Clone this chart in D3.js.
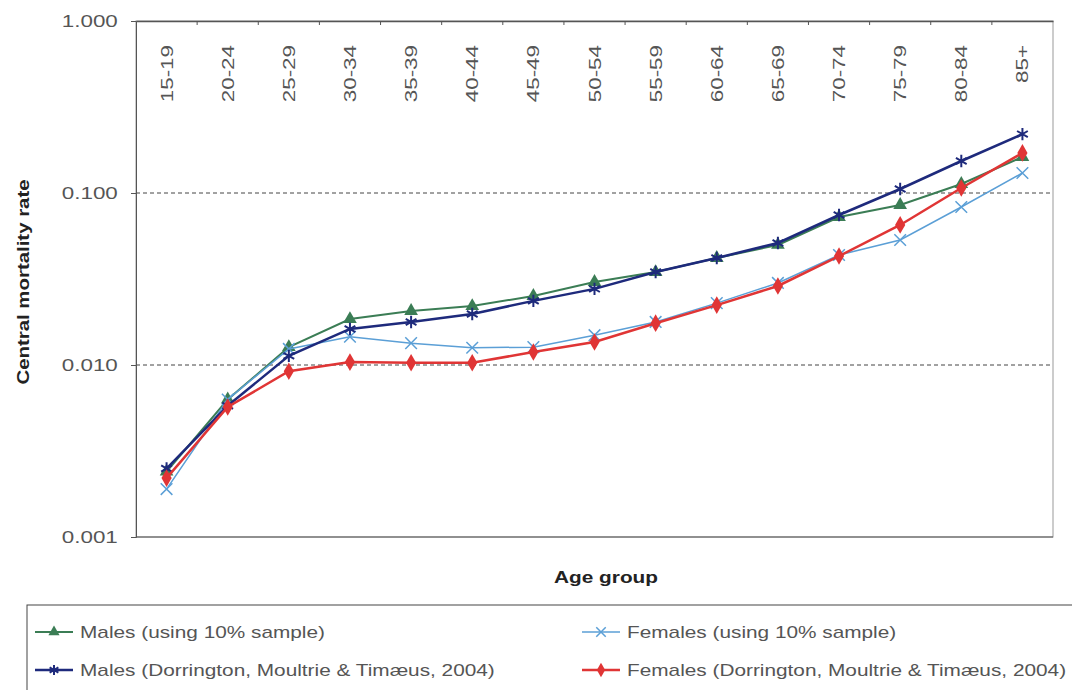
<!DOCTYPE html>
<html>
<head>
  <meta charset="UTF-8">
  <style>
    body { margin: 0; background: #fff; }
    text { font-family: "Liberation Sans", Arial, sans-serif; }
  </style>
</head>
<body>
<svg></svg>
<script src="https://d3js.org/d3.v7.min.js"></script>

<script>

let width = 1072, height = 690;

// data
const ageGroups = ["15-19", "20-24", "25-29", "30-34", "35-39", "40-44", "45-49", "50-54",
  "55-59", "60-64", "65-69", "70-74", "75-79", "80-84", "85+"];

const males10 = [0.0024, 0.0063, 0.0127, 0.0185, 0.0206, 0.0220, 0.0252, 0.0304,
  0.0347, 0.0419, 0.0499, 0.0725, 0.0852, 0.1128, 0.162];
const females10 = [0.0019, 0.0063, 0.0124, 0.0146, 0.0134, 0.0126, 0.0127, 0.0149,
  0.0178, 0.0229, 0.0300, 0.0436, 0.0533, 0.0829, 0.1307];
const malesDMT = [0.0025, 0.0058, 0.0113, 0.0162, 0.0178, 0.0198, 0.0236, 0.0277,
  0.0347, 0.0419, 0.0512, 0.0745, 0.1055, 0.1535, 0.220];
const femalesDMT = [0.0022, 0.0057, 0.0092, 0.0104, 0.0103, 0.0103, 0.0119, 0.0136,
  0.0175, 0.0223, 0.0288, 0.0430, 0.0652, 0.1069, 0.171];

const yTicks = [0.001, 0.01, 0.1, 1];
const yTickLabels = ["0.001", "0.010", "0.100", "1.000"];

const series = [
  {name: "Males (using 10% sample)", values: males10, color: "#3b7d55", width: 2, symbol: "triangle"},
  {name: "Females (using 10% sample)", values: females10, color: "#5b9fd6", width: 1.5, symbol: "x"},
  {name: "Males (Dorrington, Moultrie & Timæus, 2004)", values: malesDMT, color: "#1e2a7c", width: 2.5, symbol: "asterisk"},
  {name: "Females (Dorrington, Moultrie & Timæus, 2004)", values: femalesDMT, color: "#e03535", width: 2.5, symbol: "diamond"}
];

let svg = d3.select("svg")
    .attr("width", width)
    .attr("height", height)
    .attr("viewBox", "0 0 " + width + " " + height);

let pLeft = 136, pRight = 1053, pTop = 21, pBottom = 537;

let x = d3.scaleBand().domain(ageGroups).range([pLeft, pRight]).padding(0);
let y = d3.scaleLog().domain([0.001, 1]).range([pBottom, pTop]);

// the scanned text is stretched wide, so scale it along its run
const stretch = 1.4;

// plot border
svg.append("rect")
    .attr("x", pLeft).attr("y", pTop)
    .attr("width", pRight - pLeft).attr("height", pBottom - pTop)
    .attr("fill", "none").attr("stroke", "#999").attr("stroke-width", 1);

svg.append("line")
    .attr("x1", pLeft).attr("x2", pRight)
    .attr("y1", pBottom).attr("y2", pBottom)
    .attr("stroke", "#555");

// gridlines
svg.append("g")
    .selectAll("line")
    .data([0.01, 0.1])
    .enter()
    .append("line")
    .attr("x1", pLeft).attr("x2", pRight)
    .attr("y1", d => y(d)).attr("y2", d => y(d))
    .attr("stroke", "#444")
    .attr("stroke-dasharray", "4,3")
    .attr("stroke-width", 1);

// y axis
let yAxis = d3.axisLeft(y)
    .tickValues(yTicks)
    .tickFormat((d, i) => yTickLabels[i])
    .tickSize(5)
    .tickPadding(8);

let gy = svg.append("g")
    .attr("transform", "translate(" + pLeft + ",0)")
    .call(yAxis);
gy.select(".domain").attr("stroke", "#555");
gy.selectAll(".tick line").attr("stroke", "#555");
gy.selectAll(".tick text")
    .attr("font-size", 16)
    .attr("fill", "#555")
    .attr("font-family", "Liberation Sans, Arial, sans-serif")
    .attr("transform", "scale(" + stretch + ",1)");

// x axis at top, labels rotated below it
let xAxis = d3.axisTop(x).tickSize(0).tickFormat("");
let gx = svg.append("g")
    .attr("transform", "translate(0," + pTop + ")")
    .call(xAxis);
gx.select(".domain").attr("stroke", "#555").attr("stroke-width", 1.5);

svg.append("g")
    .selectAll("line")
    .data(ageGroups.slice(1))
    .enter()
    .append("line")
    .attr("x1", d => x(d)).attr("x2", d => x(d))
    .attr("y1", pTop).attr("y2", pTop + 4)
    .attr("stroke", "#555");

svg.append("g")
    .selectAll("text")
    .data(ageGroups)
    .enter()
    .append("text")
    .attr("transform", d => "translate(" + (x(d) + x.bandwidth() / 2 + 6) + "," + (pTop + 24) + ") rotate(-90) scale(" + stretch + ",1)")
    .attr("text-anchor", "end")
    .attr("font-size", 16)
    .attr("fill", "#555")
    .text(d => d);

// axis titles
svg.append("text")
    .attr("transform", "translate(29,282) rotate(-90) scale(1.2,1)")
    .attr("text-anchor", "middle")
    .attr("font-size", 17)
    .attr("font-weight", "bold")
    .attr("fill", "#222")
    .text("Central mortality rate");

svg.append("text")
    .attr("transform", "translate(606,583) scale(1.3,1)")
    .attr("text-anchor", "middle")
    .attr("font-size", 16)
    .attr("font-weight", "bold")
    .attr("fill", "#222")
    .text("Age group");

// markers
function drawMarker(g, s, cx, cy, size) {
  if (s.symbol === "triangle") {
    g.append("path")
      .attr("d", d3.symbol().type(d3.symbolTriangle).size(size * 0.9)())
      .attr("transform", "translate(" + cx + "," + cy + ")")
      .attr("fill", s.color);
  } else if (s.symbol === "diamond") {
    g.append("path")
      .attr("d", d3.symbol().type(d3.symbolDiamond).size(size)())
      .attr("transform", "translate(" + cx + "," + cy + ")")
      .attr("fill", s.color);
  } else if (s.symbol === "x") {
    g.append("path")
      .attr("d", d3.symbol().type(d3.symbolTimes).size(size)())
      .attr("transform", "translate(" + cx + "," + cy + ")")
      .attr("fill", "none").attr("stroke", s.color).attr("stroke-width", 1.5);
  } else {
    g.append("path")
      .attr("d", d3.symbol().type(d3.symbolAsterisk).size(size * 1.2)())
      .attr("transform", "translate(" + cx + "," + cy + ")")
      .attr("fill", "none").attr("stroke", s.color).attr("stroke-width", 2);
  }
}

let line = d3.line()
    .x((d, i) => x(ageGroups[i]) + x.bandwidth() / 2)
    .y(d => y(d));

series.forEach(s => {
  let g = svg.append("g");
  g.append("path")
    .datum(s.values)
    .attr("d", line)
    .attr("fill", "none")
    .attr("stroke", s.color)
    .attr("stroke-width", s.width);
  s.values.forEach((v, i) => {
    drawMarker(g, s, x(ageGroups[i]) + x.bandwidth() / 2, y(v), 90);
  });
});

// legend
svg.append("rect")
    .attr("x", 27).attr("y", 605)
    .attr("width", 1100).attr("height", 120)
    .attr("fill", "none").attr("stroke", "#444").attr("stroke-width", 1);

let legendPos = [[35, 632], [582, 632], [35, 670], [582, 670]];
series.forEach((s, i) => {
  let lx = legendPos[i][0], ly = legendPos[i][1];
  let g = svg.append("g");
  g.append("line")
    .attr("x1", lx).attr("x2", lx + 38)
    .attr("y1", ly).attr("y2", ly)
    .attr("stroke", s.color).attr("stroke-width", s.width);
  drawMarker(g, s, lx + 19, ly, 60);
  g.append("text")
    .attr("transform", "translate(" + (lx + 45) + "," + (ly + 6) + ") scale(1.3,1)")
    .attr("font-size", 16)
    .attr("fill", "#555")
    .text(s.name);
});

</script>

</body>
</html>
